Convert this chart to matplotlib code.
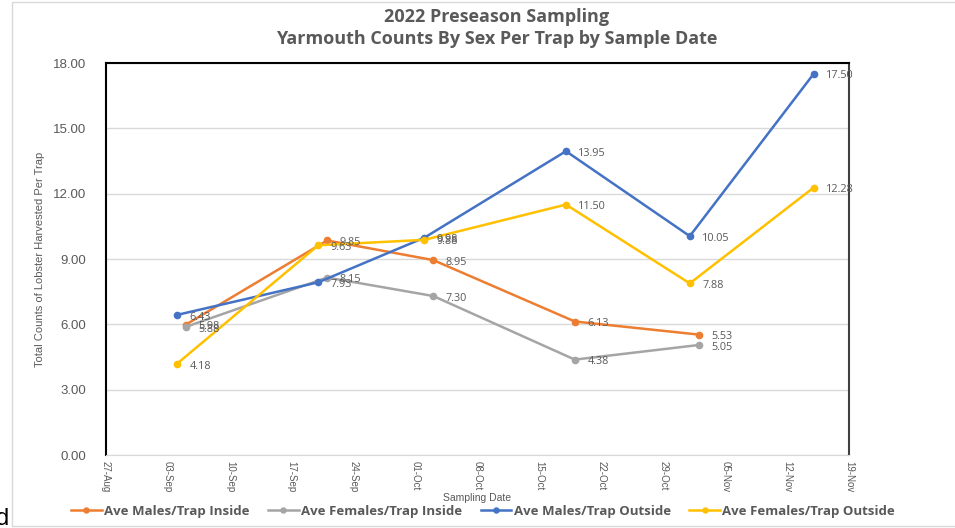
import numpy as np
import matplotlib
matplotlib.use('Agg')
import matplotlib.pyplot as plt
import matplotlib.dates as mdates
from matplotlib.patches import Rectangle

plt.rcParams['font.family'] = ['Open Sans', 'DejaVu Sans']

# sample dates and averages
dates_inside = np.array(['2022-09-05', '2022-09-21', '2022-10-03', '2022-10-19', '2022-11-02'], dtype='datetime64[D]')
dates_outside = np.array(['2022-09-04', '2022-09-20', '2022-10-02', '2022-10-18', '2022-11-01', '2022-11-15'], dtype='datetime64[D]')

males_inside = [5.98, 9.85, 8.95, 6.13, 5.53]
females_inside = [5.88, 8.15, 7.30, 4.38, 5.05]
males_outside = [6.43, 7.93, 9.98, 13.95, 10.05, 17.50]
females_outside = [4.18, 9.63, 9.88, 11.50, 7.88, 12.28]

series = [
    ('Ave Males/Trap Inside', dates_inside, males_inside, '#ED7D31'),
    ('Ave Females/Trap Inside', dates_inside, females_inside, '#A5A5A5'),
    ('Ave Males/Trap Outside', dates_outside, males_outside, '#4472C4'),
    ('Ave Females/Trap Outside', dates_outside, females_outside, '#FFC000'),
]

txt = '#595959'
narrow = ['Liberation Sans', 'DejaVu Sans']


def to_dt(a):
    return a.astype('datetime64[ms]').astype(object)


fig = plt.figure(figsize=(9.55, 5.28), dpi=100)
ax = fig.add_axes([106/955, 73/528, 743/955, 392/528])

fig.patches.append(Rectangle((12/955, 2/528), 1.0, 524/528, transform=fig.transFigure,
                             fill=False, edgecolor='#D9D9D9', linewidth=1))

for name, d, v, c in series:
    xs = to_dt(d)
    ax.plot(xs, v, '-o', color=c, linewidth=1.8, markersize=4.5, label=name)
    for xi, yi in zip(xs, v):
        ax.annotate(f'{yi:.2f}', (mdates.date2num(xi), yi), xytext=(9, -1.5),
                    textcoords='offset points', va='center', ha='left',
                    fontsize=7.8, color=txt)

ax.set_ylim(0, 18)
ax.set_yticks(np.arange(0, 18.01, 3))
ax.yaxis.set_major_formatter(matplotlib.ticker.FormatStrFormatter('%.2f'))
ax.set_xlim(to_dt(np.datetime64('2022-08-27')), to_dt(np.datetime64('2022-11-19')))
ticks = np.arange(np.datetime64('2022-08-27'), np.datetime64('2022-11-20'), 7)
ax.set_xticks([mdates.date2num(to_dt(t)) for t in ticks])
ax.xaxis.set_major_formatter(mdates.DateFormatter('%d-%b'))

ax.grid(axis='y', color='#D9D9D9', linewidth=1)
ax.set_axisbelow(True)
ax.tick_params(length=0, colors=txt)
ax.tick_params(axis='y', labelsize=9.5, pad=14)
ax.tick_params(axis='x', labelsize=7, pad=4)
for lab in ax.get_xticklabels():
    lab.set_rotation(-90)
    lab.set_family(narrow)
for lab in ax.get_yticklabels():
    lab.set_family(['Liberation Sans', 'DejaVu Sans'])

ax.spines['left'].set_color('black')
ax.spines['left'].set_linewidth(1.5)
ax.spines['top'].set_color('black')
ax.spines['top'].set_linewidth(1.5)
ax.spines['right'].set_color('#404040')
ax.spines['right'].set_linewidth(1.5)
ax.spines['bottom'].set_color('#D9D9D9')

ax.set_ylabel('Total Counts of Lobster Harvested Per Trap', fontsize=8, color=txt,
              family=narrow, labelpad=6)
ax.set_xlabel('Sampling Date', fontsize=7.5, color=txt, family=narrow, labelpad=1)

fig.text(0.52, 0.967, '2022 Preseason Sampling', ha='center', va='center',
         fontsize=13, fontweight='bold', color=txt)
fig.text(0.52, 0.927, 'Yarmouth Counts By Sex Per Trap by Sample Date', ha='center', va='center',
         fontsize=13, fontweight='bold', color=txt)

leg = fig.legend(loc='center', bbox_to_anchor=(0.506, 17/528), ncol=4, frameon=False,
                 fontsize=9.5, handlelength=2.3, columnspacing=1.4, handletextpad=0.2,
                 markerscale=0.8)
for t in leg.get_texts():
    t.set_color(txt)
    t.set_fontweight('bold')

fig.text(-0.004, 3/528, 'd', fontsize=17, color='black', ha='left', va='baseline',
         family=['Liberation Sans', 'DejaVu Sans'])

fig.savefig('out.png', dpi=100)
